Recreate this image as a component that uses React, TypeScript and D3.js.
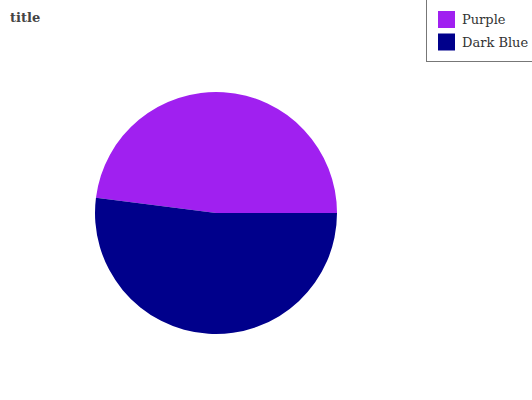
import React from "react";
import * as d3 from "d3";

// slice names, values and colours
const categories = ["Purple", "Dark Blue"];
const values = [48, 52];
const colors = ["#a020f0", "#00008b"];

const width = 532;
const height = 400;

const App = () => {
  const cx = 216;
  const cy = 213;
  const radius = 121;

  const data = categories.map((name, i) => ({ name, value: values[i], color: colors[i] }));

  // Dark Blue begins at 3 o'clock and runs clockwise, Purple closes the circle
  const pie = d3
    .pie<{ name: string; value: number; color: string }>()
    .value(d => d.value)
    .sort((a, b) => b.value - a.value)
    .startAngle(Math.PI / 2)
    .endAngle(Math.PI / 2 + 2 * Math.PI);

  const arc = d3
    .arc<d3.PieArcDatum<{ name: string; value: number; color: string }>>()
    .innerRadius(0)
    .outerRadius(radius);

  const arcs = pie(data);

  return (
    <svg
      width={width}
      height={height}
      style={{ position: "absolute", left: 0, top: 0, background: "#fff" }}
    >
      <text
        x={10}
        y={22}
        fontFamily="DejaVu Serif"
        fontWeight="bold"
        fontSize={13}
        fill="#444"
      >
        title
      </text>

      <g transform={`translate(${cx},${cy})`}>
        {arcs.map(a => (
          <path key={a.data.name} d={arc(a) || ""} fill={a.data.color} />
        ))}
      </g>

      <g>
        <rect x={426.5} y={-1.5} width={120} height={63} fill="#fff" stroke="#777" strokeWidth={1} />
        {categories.map((name, i) => (
          <g key={name} transform={`translate(438,${11 + i * 22.5})`}>
            <rect width={17} height={17} fill={colors[i]} />
            <text
              x={24}
              y={13}
              fontFamily="DejaVu Serif"
              fontSize={13}
              fill="#333"
            >
              {name}
            </text>
          </g>
        ))}
      </g>
    </svg>
  );
};

export default App;
